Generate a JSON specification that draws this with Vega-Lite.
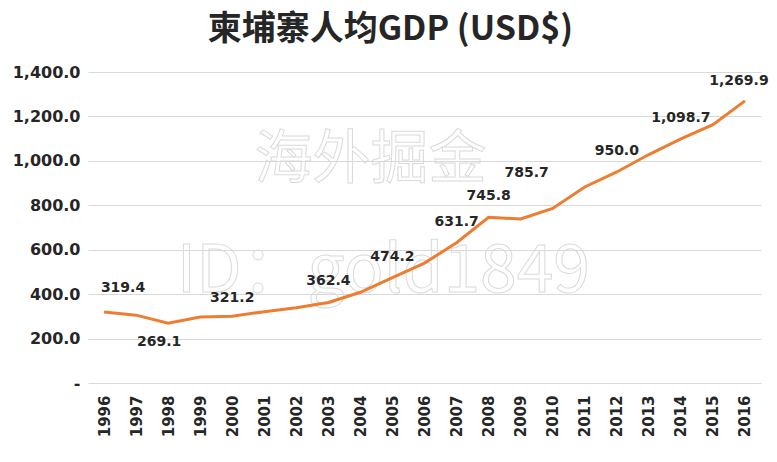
{
  "$schema": "https://vega.github.io/schema/vega-lite/v6.json",
  "width": 673,
  "height": 311,
  "autosize": {"type": "none"},
  "padding": {"left": 88, "top": 72, "right": 16, "bottom": 79},
  "background": "white",
  "title": {
    "text": "柬埔寨人均GDP (USD$)",
    "font": "Noto Sans CJK SC",
    "fontSize": 34,
    "fontWeight": "bold",
    "color": "#262626",
    "anchor": "middle",
    "frame": "bounds",
    "offset": 17
  },
  "config": {
    "view": {"stroke": null},
    "axis": {"labelFont": "DejaVu Sans", "labelFontWeight": "bold", "labelColor": "#262626"}
  },
  "data": {
    "values": [
      {"year": "1996", "gdp": 319.4},
      {"year": "1997", "gdp": 305.4},
      {"year": "1998", "gdp": 269.1},
      {"year": "1999", "gdp": 296.9},
      {"year": "2000", "gdp": 300.6},
      {"year": "2001", "gdp": 321.2},
      {"year": "2002", "gdp": 338.5},
      {"year": "2003", "gdp": 362.4},
      {"year": "2004", "gdp": 408.5},
      {"year": "2005", "gdp": 474.2},
      {"year": "2006", "gdp": 539.7},
      {"year": "2007", "gdp": 631.7},
      {"year": "2008", "gdp": 745.8},
      {"year": "2009", "gdp": 738.1},
      {"year": "2010", "gdp": 785.7},
      {"year": "2011", "gdp": 882.5},
      {"year": "2012", "gdp": 950.0},
      {"year": "2013", "gdp": 1028.4},
      {"year": "2014", "gdp": 1098.7},
      {"year": "2015", "gdp": 1162.9},
      {"year": "2016", "gdp": 1269.9}
    ]
  },
  "encoding": {
    "x": {
      "field": "year", "type": "ordinal",
      "scale": {"type": "point", "padding": 0.5},
      "axis": {"title": null, "labelAngle": -90, "labelFontSize": 15, "ticks": false, "tickSize": 0, "labelPadding": 12, "domain": false, "grid": false}
    },
    "y": {
      "field": "gdp", "type": "quantitative",
      "scale": {"domain": [0, 1400], "nice": false},
      "axis": {"title": null, "values": [0, 200, 400, 600, 800, 1000, 1200, 1400], "labelExpr": "datum.value == 0 ? '-' : format(datum.value, ',.1f')", "labelFontSize": 16, "ticks": false, "tickSize": 0, "labelPadding": 8, "domain": false, "grid": true, "gridColor": "#d9d9d9", "gridWidth": 1}
    }
  },
  "layer": [
    {
      "transform": [{"filter": {"field": "year", "equal": "2004"}}],
      "mark": {"type": "text", "text": "海外掘金", "font": "Noto Sans CJK SC", "fontSize": 58, "fillOpacity": 0, "stroke": "#dadada", "strokeWidth": 1, "dx": 10},
      "encoding": {"x": {"datum": "2004"}, "y": {"datum": 1000}}
    },
    {
      "transform": [{"filter": {"field": "year", "equal": "2004"}}],
      "mark": {"type": "text", "text": "ID：gold1849", "font": "Noto Sans CJK SC", "fontSize": 66, "fillOpacity": 0, "stroke": "#dadada", "strokeWidth": 1, "dx": 23},
      "encoding": {"x": {"datum": "2004"}, "y": {"datum": 500}}
    },
    {
      "mark": {"type": "line", "color": "#ED7D31", "strokeWidth": 3}
    },
    {
      "transform": [{"filter": {"field": "year", "oneOf": ["2003", "2005", "2007", "2008", "2012", "2014"]}}],
      "mark": {"type": "text", "font": "DejaVu Sans", "fontWeight": "bold", "fontSize": 14, "color": "#262626", "dy": -21},
      "encoding": {"text": {"field": "gdp", "type": "quantitative", "format": ",.1f"}}
    },
    {
      "transform": [{"filter": {"field": "year", "equal": "1996"}}],
      "mark": {"type": "text", "font": "DejaVu Sans", "fontWeight": "bold", "fontSize": 14, "color": "#262626", "dx": 19, "dy": -24},
      "encoding": {"text": {"field": "gdp", "type": "quantitative", "format": ",.1f"}}
    },
    {
      "transform": [{"filter": {"field": "year", "equal": "1998"}}],
      "mark": {"type": "text", "font": "DejaVu Sans", "fontWeight": "bold", "fontSize": 14, "color": "#262626", "dx": -9, "dy": 19},
      "encoding": {"text": {"field": "gdp", "type": "quantitative", "format": ",.1f"}}
    },
    {
      "transform": [{"filter": {"field": "year", "equal": "2001"}}],
      "mark": {"type": "text", "font": "DejaVu Sans", "fontWeight": "bold", "fontSize": 14, "color": "#262626", "dx": -32, "dy": -14},
      "encoding": {"text": {"field": "gdp", "type": "quantitative", "format": ",.1f"}}
    },
    {
      "transform": [{"filter": {"field": "year", "equal": "2010"}}],
      "mark": {"type": "text", "font": "DejaVu Sans", "fontWeight": "bold", "fontSize": 14, "color": "#262626", "dx": -26, "dy": -35},
      "encoding": {"text": {"field": "gdp", "type": "quantitative", "format": ",.1f"}}
    },
    {
      "transform": [{"filter": {"field": "year", "equal": "2016"}}],
      "mark": {"type": "text", "font": "DejaVu Sans", "fontWeight": "bold", "fontSize": 14, "color": "#262626", "dx": -6, "dy": -20},
      "encoding": {"text": {"field": "gdp", "type": "quantitative", "format": ",.1f"}}
    }
  ]
}
